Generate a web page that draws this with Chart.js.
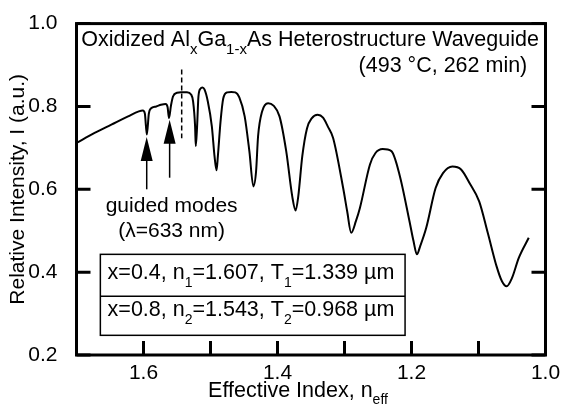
<!DOCTYPE html>
<html><head><meta charset="utf-8">
<script src="https://cdn.jsdelivr.net/npm/chart.js@4.4.0/dist/chart.umd.min.js"></script>
<style>html,body{margin:0;padding:0;background:#fff}</style>
</head><body>
<canvas id="c" width="567" height="409"></canvas>
<script>
// ---- data ----
const effIndex = [1.700,1.673,1.648,1.623,1.607,1.601,1.598,1.595,1.592,1.589,1.581,1.574,1.567,1.564,1.562,1.559,1.556,1.550,1.544,1.535,1.529,1.526,1.523,1.522,1.520,1.518,1.515,1.512,1.509,1.504,1.498,1.494,1.491,1.489,1.485,1.481,1.475,1.469,1.463,1.457,1.449,1.442,1.436,1.432,1.429,1.423,1.414,1.406,1.397,1.387,1.378,1.373,1.369,1.363,1.356,1.349,1.340,1.332,1.325,1.317,1.302,1.296,1.290,1.283,1.277,1.262,1.254,1.243,1.230,1.218,1.203,1.197,1.192,1.187,1.178,1.164,1.153,1.139,1.126,1.113,1.099,1.086,1.073,1.065,1.058,1.050,1.040,1.025];
const intensity = [0.712,0.736,0.756,0.776,0.788,0.790,0.783,0.732,0.783,0.795,0.800,0.804,0.806,0.798,0.772,0.802,0.824,0.833,0.834,0.834,0.829,0.812,0.752,0.704,0.752,0.824,0.843,0.846,0.841,0.812,0.752,0.680,0.646,0.680,0.764,0.819,0.834,0.835,0.834,0.822,0.776,0.692,0.607,0.643,0.728,0.788,0.808,0.802,0.776,0.692,0.583,0.549,0.583,0.680,0.747,0.771,0.780,0.773,0.752,0.724,0.603,0.547,0.495,0.523,0.555,0.660,0.687,0.697,0.692,0.636,0.523,0.475,0.443,0.463,0.507,0.603,0.639,0.655,0.648,0.614,0.571,0.494,0.414,0.378,0.366,0.386,0.434,0.483];
const xTickValues = [1.0,1.1,1.2,1.3,1.4,1.5,1.6,1.7];
const xTickLabels = [1.6,1.4,1.2,1.0];
const yTickLabels = [0.2,0.4,0.6,0.8,1.0];
const markerIndex = [1.543,1.543];
const markerIntensity = [0.889,0.723];
const arrowIndex = [1.5952,1.561];
const arrowTip = [0.726,0.768];
const arrowTail = [0.600,0.628];
const titleParts = [['Oxidized Al',0],['x',1],['Ga',0],['1-x',1],['As Heterostructure Waveguide',0]];
const subtitleText = '(493 °C, 262 min)';
const modeLines = ['guided modes','(λ=633 nm)'];
const layerLines = [
  [['x=0.4, n',0],['1',1],['=1.607, T',0],['1',1],['=1.339 µm',0]],
  [['x=0.8, n',0],['2',1],['=1.543, T',0],['2',1],['=0.968 µm',0]]
];
const xTitleParts = [['Effective Index, n',0],['eff',1]];
const yTitleText = 'Relative Intensity, I (a.u.)';

// ---- annotation anchors (data units) ----
const titleAnchor = {n:1.0098, i:0.947};
const subtitleAnchor = {n:1.0272, i:0.882};
const modeAnchor = {n:1.558, i:[0.545,0.485]};
const boxAnchor = {n0:1.6644, n1:1.2096, i0:0.443, iMid:0.342, i1:0.2475, textN:1.6536, textI:[0.383,0.2936]};

const FONT = '"Liberation Sans", Arial, Helvetica, sans-serif';
Chart.defaults.font.family = FONT;
Chart.defaults.color = '#000';

function drawRich(ctx, parts, x, y, align, size, subSize, subShift){
  let total = 0;
  const widths = parts.map(([t,s])=>{ctx.font = (s?subSize:size)+'px '+FONT; const w = ctx.measureText(t).width; total += w; return w;});
  let cx = align==='right' ? x-total : align==='center' ? x-total/2 : x;
  ctx.textAlign = 'left'; ctx.textBaseline = 'alphabetic';
  parts.forEach(([t,s],k)=>{ctx.font = (s?subSize:size)+'px '+FONT; ctx.fillText(t, cx, y + (s?subShift:0)); cx += widths[k];});
}

const decor = {
  id:'decor',
  afterDatasetsDraw(chart){
    const {ctx, chartArea:a, scales:{x, y}} = chart;
    ctx.save();
    ctx.fillStyle = '#000'; ctx.strokeStyle = '#000';
    // inward ticks
    ctx.lineWidth = 3; ctx.lineCap = 'butt';
    ctx.beginPath();
    xTickValues.forEach(v=>{const px = x.getPixelForValue(v); ctx.moveTo(px, a.bottom); ctx.lineTo(px, a.bottom-14);});
    yTickLabels.forEach(v=>{const py = y.getPixelForValue(v); ctx.moveTo(a.left, py); ctx.lineTo(a.left+14, py); ctx.moveTo(a.right, py); ctx.lineTo(a.right-14, py);});
    ctx.stroke();
    // frame
    ctx.strokeRect(a.left, a.top, a.right-a.left, a.bottom-a.top);
    // arrows
    ctx.lineWidth = 1.5;
    arrowIndex.forEach((n,k)=>{
      const px = x.getPixelForValue(n), ty = y.getPixelForValue(arrowTip[k]), by = y.getPixelForValue(arrowTail[k]);
      ctx.beginPath(); ctx.moveTo(px, by); ctx.lineTo(px, ty+20); ctx.stroke();
      ctx.beginPath(); ctx.moveTo(px, ty); ctx.lineTo(px-6, ty+24); ctx.lineTo(px+6, ty+24); ctx.closePath(); ctx.fill();
    });
    // titles
    drawRich(ctx, titleParts, x.getPixelForValue(titleAnchor.n), y.getPixelForValue(titleAnchor.i), 'right', 21.5, 15, 8);
    drawRich(ctx, [[subtitleText,0]], x.getPixelForValue(subtitleAnchor.n), y.getPixelForValue(subtitleAnchor.i), 'right', 21.5, 15, 8);
    modeLines.forEach((t,k)=>drawRich(ctx, [[t,0]], x.getPixelForValue(modeAnchor.n), y.getPixelForValue(modeAnchor.i[k]), 'center', 21, 15, 8));
    // box
    const bx0 = x.getPixelForValue(boxAnchor.n0), bx1 = x.getPixelForValue(boxAnchor.n1);
    const by0 = y.getPixelForValue(boxAnchor.i0), byM = y.getPixelForValue(boxAnchor.iMid), by1 = y.getPixelForValue(boxAnchor.i1);
    ctx.fillStyle = '#fff'; ctx.fillRect(bx0, by0, bx1-bx0, by1-by0); ctx.fillStyle = '#000';
    ctx.lineWidth = 1.5;
    ctx.strokeRect(bx0, by0, bx1-bx0, by1-by0);
    ctx.beginPath(); ctx.moveTo(bx0, byM); ctx.lineTo(bx1, byM); ctx.stroke();
    layerLines.forEach((parts,k)=>drawRich(ctx, parts, x.getPixelForValue(boxAnchor.textN), y.getPixelForValue(boxAnchor.textI[k]), 'left', 21.5, 14, 8));
    // x title
    drawRich(ctx, xTitleParts, a.left + 221.5, 397, 'center', 21.5, 14, 7);
    ctx.restore();
  }
};

new Chart(document.getElementById('c'), {
  type:'line',
  data:{datasets:[
    {data: effIndex.map((n,k)=>({x:n, y:intensity[k]})), borderColor:'#000', borderWidth:2, pointRadius:0, cubicInterpolationMode:'monotone', fill:false},
    {data: markerIndex.map((n,k)=>({x:n, y:markerIntensity[k]})), borderColor:'#000', borderWidth:1.5, borderDash:[5,3], pointRadius:0, fill:false}
  ]},
  options:{
    responsive:false, animation:false, devicePixelRatio:1,
    layout:{padding:{left:0, right:21.5, top:23.5, bottom:0}},
    plugins:{legend:{display:false}, tooltip:{enabled:false}, title:{display:false}},
    scales:{
      x:{type:'linear', reverse:true, min:1.0, max:1.7,
        afterFit:s=>{s.height = 54;},
        afterBuildTicks:s=>{s.ticks = xTickValues.map(v=>({value:v}));},
        grid:{display:false}, border:{display:false},
        ticks:{autoSkip:false, maxRotation:0, padding:-2, font:{size:21}, color:'#000',
          callback:v=>xTickLabels.some(l=>Math.abs(l-v)<1e-6) ? v.toFixed(1) : ''}},
      y:{type:'linear', min:0.2, max:1.0,
        afterFit:s=>{s.width = 76.5;},
        afterBuildTicks:s=>{s.ticks = yTickLabels.map(v=>({value:v}));},
        grid:{display:false}, border:{display:false},
        title:{display:true, text:yTitleText, font:{size:21}, color:'#000', padding:{top:5.4, bottom:0}},
        ticks:{padding:11, font:{size:21}, color:'#000', callback:v=>v.toFixed(1)}}
    }
  },
  plugins:[decor]
});
</script>
</body></html>
